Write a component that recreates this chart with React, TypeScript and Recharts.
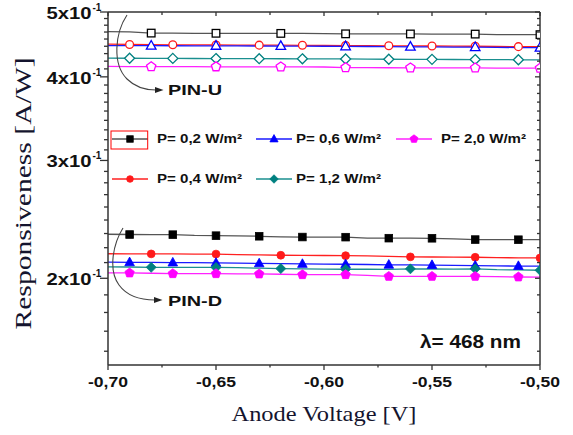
import React from 'react';
import { LineChart, Line, XAxis, YAxis } from 'recharts';

// ---------- data ----------
const voltage = [-0.70, -0.69, -0.68, -0.67, -0.66, -0.65, -0.64, -0.63, -0.62, -0.61, -0.60, -0.59, -0.58, -0.57, -0.56, -0.55, -0.54, -0.53, -0.52, -0.51, -0.50];

// PIN-U (open markers)
const pinU_02 = [0.4672, 0.4668, 0.4650, 0.4648, 0.4647, 0.4647, 0.4646, 0.4646, 0.4645, 0.4645, 0.4641, 0.4638, 0.4637, 0.4636, 0.4636, 0.4635, 0.4635, 0.4634, 0.4627, 0.4626, 0.4625];
const pinU_04 = [0.4476, 0.4472, 0.4468, 0.4466, 0.4465, 0.4464, 0.4462, 0.4461, 0.4460, 0.4459, 0.4457, 0.4455, 0.4453, 0.4451, 0.4450, 0.4448, 0.4446, 0.4444, 0.4441, 0.4438, 0.4437];
const pinU_06 = [0.4455, 0.4454, 0.4453, 0.4452, 0.4451, 0.4450, 0.4449, 0.4448, 0.4447, 0.4446, 0.4444, 0.4442, 0.4440, 0.4438, 0.4436, 0.4434, 0.4432, 0.4430, 0.4427, 0.4424, 0.4422];
const pinU_12 = [0.4266, 0.4264, 0.4263, 0.4262, 0.4261, 0.4260, 0.4259, 0.4258, 0.4257, 0.4256, 0.4255, 0.4254, 0.4252, 0.4250, 0.4249, 0.4248, 0.4246, 0.4245, 0.4244, 0.4242, 0.4241];
const pinU_20 = [0.4146, 0.4144, 0.4143, 0.4142, 0.4142, 0.4141, 0.4141, 0.4140, 0.4140, 0.4139, 0.4138, 0.4129, 0.4128, 0.4127, 0.4126, 0.4126, 0.4125, 0.4124, 0.4123, 0.4122, 0.4121];

// PIN-D (filled markers)
const pinD_02 = [0.2327, 0.2325, 0.2324, 0.2324, 0.2318, 0.2316, 0.2315, 0.2311, 0.2307, 0.2305, 0.2305, 0.2304, 0.2297, 0.2296, 0.2296, 0.2295, 0.2290, 0.2285, 0.2285, 0.2284, 0.2284];
const pinD_04 = [0.2176, 0.2175, 0.2175, 0.2175, 0.2174, 0.2174, 0.2170, 0.2167, 0.2165, 0.2164, 0.2163, 0.2162, 0.2160, 0.2156, 0.2153, 0.2152, 0.2151, 0.2150, 0.2147, 0.2146, 0.2145];
const pinD_06 = [0.2114, 0.2113, 0.2112, 0.2111, 0.2110, 0.2109, 0.2107, 0.2105, 0.2103, 0.2101, 0.2100, 0.2099, 0.2097, 0.2095, 0.2094, 0.2093, 0.2091, 0.2089, 0.2087, 0.2086, 0.2085];
const pinD_12 = [0.2080, 0.2079, 0.2077, 0.2077, 0.2076, 0.2076, 0.2074, 0.2071, 0.2068, 0.2066, 0.2064, 0.2063, 0.2063, 0.2062, 0.2066, 0.2065, 0.2064, 0.2066, 0.2060, 0.2058, 0.2056];
const pinD_20 = [0.2038, 0.2037, 0.2035, 0.2032, 0.2032, 0.2032, 0.2031, 0.2030, 0.2028, 0.2025, 0.2025, 0.2025, 0.2020, 0.2013, 0.2013, 0.2013, 0.2013, 0.2013, 0.2011, 0.2009, 0.2008];

// voltages at which a marker symbol is drawn
const marksStep3 = [-0.68, -0.65, -0.62, -0.59, -0.56, -0.53, -0.50];
const marksStep2 = [-0.69, -0.67, -0.65, -0.63, -0.61, -0.59, -0.57, -0.55, -0.53, -0.51];

const powerLabels = ['P= 0,2 W/m²', 'P= 0,4 W/m²', 'P= 0,6 W/m²', 'P= 1,2 W/m²', 'P= 2,0 W/m²'];

const xTicks = [-0.70, -0.675, -0.65, -0.625, -0.60, -0.575, -0.55, -0.525, -0.50];
const xMajorTicks = [-0.70, -0.65, -0.60, -0.55, -0.50];
const xTickLabels = ['-0,70', '-0,65', '-0,60', '-0,55', '-0,50'];

const yMajorTicks = [0.2, 0.3, 0.4, 0.5];
const yTickMantissa = ['2x10', '3x10', '4x10', '5x10'];
const yTickExponent = '-1';
const yMinorTicks = [
  0.1556, 0.1667, 0.1778, 0.1889,
  0.2111, 0.2222, 0.2333, 0.2444, 0.2556, 0.2667, 0.2778, 0.2889,
  0.3111, 0.3222, 0.3333, 0.3444, 0.3556, 0.3667, 0.3778, 0.3889,
  0.4111, 0.4222, 0.4333, 0.4444, 0.4556, 0.4667, 0.4778, 0.4889,
];

const xDomain = [-0.70, -0.50];
const yDomain = [0.1484, 0.5];

// ---------- styling ----------
const W = 573;
const H = 435;
const SANS = '"Liberation Sans", Arial, Helvetica, sans-serif';
const SERIF = '"Liberation Serif", "Times New Roman", Times, serif';
const AXIS = '#333333';

const palette = {
  black: { mark: '#000000', line: '#555555' },
  red: { mark: '#ff1a1a', line: '#ff2020' },
  blue: { mark: '#0000ff', line: '#1a1aff' },
  teal: { mark: '#008080', line: '#1a8f8f' },
  magenta: { mark: '#ff00ff', line: '#ff22ff' },
};

const seriesDefs = [
  { key: 'u02', values: pinU_02, col: palette.black, shape: 'square', filled: false, marks: marksStep3 },
  { key: 'u04', values: pinU_04, col: palette.red, shape: 'circle', filled: false, marks: marksStep2 },
  { key: 'u06', values: pinU_06, col: palette.blue, shape: 'triangle', filled: false, marks: marksStep3 },
  { key: 'u12', values: pinU_12, col: palette.teal, shape: 'diamond', filled: false, marks: marksStep2 },
  { key: 'u20', values: pinU_20, col: palette.magenta, shape: 'pentagon', filled: false, marks: marksStep3 },
  { key: 'd02', values: pinD_02, col: palette.black, shape: 'square', filled: true, marks: marksStep2 },
  { key: 'd04', values: pinD_04, col: palette.red, shape: 'circle', filled: true, marks: marksStep3 },
  { key: 'd06', values: pinD_06, col: palette.blue, shape: 'triangle', filled: true, marks: marksStep2 },
  { key: 'd12', values: pinD_12, col: palette.teal, shape: 'diamond', filled: true, marks: marksStep3 },
  { key: 'd20', values: pinD_20, col: palette.magenta, shape: 'pentagon', filled: true, marks: marksStep2 },
];

const rows = voltage.map((v, i) => {
  const r: any = { v };
  seriesDefs.forEach((s) => {
    r[s.key] = s.values[i];
  });
  return r;
});

const near = (a: number, b: number) => Math.abs(a - b) < 1e-6;

function Marker({ shape, cx, cy, color, filled, s = 1 }: any) {
  const common = {
    fill: filled ? color : '#ffffff',
    stroke: color,
    strokeWidth: filled ? 0.8 : 1.3,
  };
  if (shape === 'square') {
    const h = 3.8 * s;
    return <rect x={cx - h} y={cy - h} width={2 * h} height={2 * h} {...common} />;
  }
  if (shape === 'circle') {
    return <circle cx={cx} cy={cy} r={3.9 * s} {...common} />;
  }
  let pts: number[][] = [];
  if (shape === 'triangle') {
    pts = [[0, -5.2], [4.8, 3.4], [-4.8, 3.4]];
  } else if (shape === 'diamond') {
    pts = [[0, -5], [5, 0], [0, 5], [-5, 0]];
  } else {
    const r = 4.9;
    for (let k = 0; k < 5; k++) {
      const a = ((-90 + k * 72) * Math.PI) / 180;
      pts.push([r * Math.cos(a), r * Math.sin(a)]);
    }
  }
  const d = pts.map((p) => `${cx + p[0] * s},${cy + p[1] * s}`).join(' ');
  return <polygon points={d} {...common} />;
}

const makeDot = (def: any) => (props: any) => {
  const { cx, cy, payload, index } = props;
  const k = `${def.key}-dot-${index}`;
  if (cx == null || cy == null || !def.marks.some((m: number) => near(m, payload.v))) {
    return <g key={k} />;
  }
  return (
    <g key={k}>
      <Marker shape={def.shape} cx={cx} cy={cy} color={def.col.mark} filled={def.filled} />
    </g>
  );
};

// ---------- ticks ----------
const XBottomTick = (props: any) => {
  const { x, y, payload } = props;
  const idx = xMajorTicks.findIndex((m) => near(m, payload.value));
  const major = idx >= 0;
  return (
    <g>
      <line x1={x} x2={x} y1={y} y2={y + (major ? 5 : 2.5)} stroke={AXIS} strokeWidth={1.3} />
      {major && (
        <text
          x={x}
          y={y + 22.3}
          textAnchor="middle"
          fontFamily={SANS}
          fontWeight="bold"
          fontSize={15}
          fill="#111"
          textLength={40}
          lengthAdjust="spacingAndGlyphs"
        >
          {xTickLabels[idx]}
        </text>
      )}
    </g>
  );
};

const XTopTick = (props: any) => {
  const { x, y, payload } = props;
  const major = xMajorTicks.some((m) => near(m, payload.value));
  return <line x1={x} x2={x} y1={y} y2={y + (major ? 4 : 3)} stroke={AXIS} strokeWidth={1.3} />;
};

const YLeftTick = (props: any) => {
  const { x, y, payload } = props;
  const idx = yMajorTicks.findIndex((m) => near(m, payload.value));
  const major = idx >= 0;
  return (
    <g>
      <line x1={x} x2={x - (major ? 8 : 4)} y1={y} y2={y} stroke={AXIS} strokeWidth={1.3} />
      {major && (
        <g fontFamily={SANS} fontWeight="bold" fill="#111">
          <text x={x - 16.5} y={y + 6.8} textAnchor="end" fontSize={16.5} textLength={45} lengthAdjust="spacingAndGlyphs">
            {yTickMantissa[idx]}
          </text>
          <text x={x - 15.5} y={y - 1} textAnchor="start" fontSize={10}>
            {yTickExponent}
          </text>
        </g>
      )}
    </g>
  );
};

const YRightTick = (props: any) => {
  const { x, y, payload } = props;
  const major = yMajorTicks.some((m) => near(m, payload.value));
  return <line x1={x} x2={x - (major ? 5 : 3)} y1={y} y2={y} stroke={AXIS} strokeWidth={1.3} />;
};

const allYTicks = [...yMinorTicks, ...yMajorTicks].sort((a, b) => a - b);

// ---------- legend (overlay) ----------
const legendLayout = [
  { s: 5, label: 0, col: 0, row: 0 },
  { s: 6, label: 1, col: 0, row: 1 },
  { s: 7, label: 2, col: 1, row: 0 },
  { s: 8, label: 3, col: 1, row: 1 },
  { s: 9, label: 4, col: 2, row: 0 },
];
const legendLineX = [112, 256, 396];
const legendTextX = [157, 296, 441];
const legendRowY = [139, 179];

function Overlay() {
  return (
    <svg
      width={W}
      height={H}
      style={{ position: 'absolute', left: 0, top: 0, pointerEvents: 'none' }}
    >
      {/* legend */}
      {legendLayout.map((e) => {
        const def = seriesDefs[e.s];
        const x1 = legendLineX[e.col];
        const y = legendRowY[e.row];
        return (
          <g key={def.key}>
            <line x1={x1} x2={x1 + 36} y1={y} y2={y} stroke={def.col.line} strokeWidth={1.3} />
            <Marker shape={def.shape} cx={x1 + 18} cy={y} color={def.col.mark} filled s={0.85} />
            <text
              x={legendTextX[e.col]}
              y={y + 4}
              fontFamily={SANS}
              fontWeight="bold"
              fontSize={13}
              fill="#111"
              textLength={85}
              lengthAdjust="spacingAndGlyphs"
            >
              {powerLabels[e.label]}
            </text>
          </g>
        );
      })}
      <rect x={111} y={131} width={36.7} height={18} fill="none" stroke="#ff0000" strokeWidth={1} />

      {/* PIN-U annotation */}
      <path d="M127,15 C115,33 112,64 127,79 C135,87 145,90 156,90" fill="none" stroke="#444" strokeWidth={1.1} />
      <path d="M155,87 L163.5,90 L155,93 Z" fill="#222" />
      <text x={168} y={94.5} fontFamily={SANS} fontWeight="bold" fontSize={15} fill="#111" textLength={54} lengthAdjust="spacingAndGlyphs">
        PIN-U
      </text>

      {/* PIN-D annotation */}
      <path d="M123,228 C113,244 108,270 119,285 C127,296 141,300 155,300" fill="none" stroke="#444" strokeWidth={1.1} />
      <path d="M154,297 L162.5,300 L154,303 Z" fill="#222" />
      <text x={168} y={305.5} fontFamily={SANS} fontWeight="bold" fontSize={15} fill="#111" textLength={54} lengthAdjust="spacingAndGlyphs">
        PIN-D
      </text>

      {/* wavelength */}
      <text x={420} y={348.3} fontFamily={SANS} fontWeight="bold" fontSize={18} fill="#111" textLength={101} lengthAdjust="spacingAndGlyphs">
        λ= 468 nm
      </text>

      {/* axis titles */}
      <text
        x={324}
        y={421}
        textAnchor="middle"
        fontFamily={SERIF}
        fontSize={22}
        fill="#14142e"
        textLength={185}
        lengthAdjust="spacingAndGlyphs"
      >
        Anode Voltage [V]
      </text>
      <text
        transform="translate(31,193.5) rotate(-90)"
        textAnchor="middle"
        fontFamily={SERIF}
        fontSize={23}
        fill="#14142e"
        textLength={272}
        lengthAdjust="spacingAndGlyphs"
      >
        Responsiveness [A/W]
      </text>
    </svg>
  );
}

export default function App() {
  return (
    <div style={{ position: 'absolute', left: 0, top: 0, width: W, height: H, background: '#ffffff' }}>
      <LineChart width={W} height={H} data={rows} margin={{ top: 11, right: 32, left: 0, bottom: 0 }}>
        <XAxis
          dataKey="v"
          type="number"
          domain={xDomain}
          allowDataOverflow
          ticks={xTicks}
          interval={0}
          height={70}
          tickSize={0}
          tickMargin={0}
          tickLine={false}
          tick={<XBottomTick />}
          axisLine={{ stroke: AXIS, strokeWidth: 1.5 }}
        />
        <XAxis
          xAxisId="top"
          orientation="top"
          dataKey="v"
          type="number"
          domain={xDomain}
          allowDataOverflow
          ticks={xTicks}
          interval={0}
          height={1}
          tickSize={0}
          tickMargin={0}
          tickLine={false}
          tick={<XTopTick />}
          axisLine={{ stroke: AXIS, strokeWidth: 1.5 }}
        />
        <YAxis
          type="number"
          scale="log"
          domain={yDomain}
          allowDataOverflow
          ticks={allYTicks}
          interval={0}
          width={108}
          tickSize={0}
          tickMargin={0}
          tickLine={false}
          tick={<YLeftTick />}
          axisLine={{ stroke: AXIS, strokeWidth: 1.5 }}
        />
        <YAxis
          yAxisId="right"
          orientation="right"
          type="number"
          scale="log"
          domain={yDomain}
          allowDataOverflow
          ticks={allYTicks}
          interval={0}
          width={1}
          tickSize={0}
          tickMargin={0}
          tickLine={false}
          tick={<YRightTick />}
          axisLine={{ stroke: AXIS, strokeWidth: 1.5 }}
        />
        {seriesDefs.map((def) => (
          <Line
            key={def.key}
            dataKey={def.key}
            type="linear"
            stroke={def.col.line}
            strokeWidth={1.3}
            dot={makeDot(def)}
            activeDot={false}
            isAnimationActive={false}
          />
        ))}
      </LineChart>
      <Overlay />
    </div>
  );
}
